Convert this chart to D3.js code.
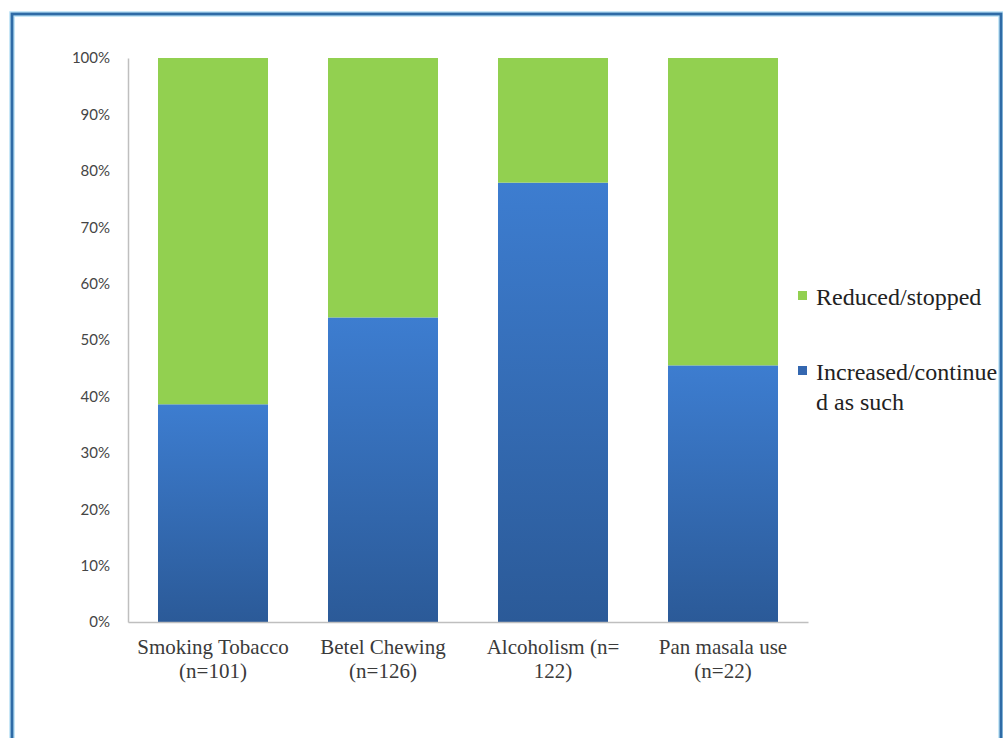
<!DOCTYPE html>
<html>
<head>
<meta charset="utf-8">
<script src="https://cdn.jsdelivr.net/npm/d3@7/dist/d3.min.js"></script>
<style>
  html, body { margin: 0; padding: 0; background: #fff; }
  svg { display: block; }
</style>
</head>
<body>
<svg id="chart" width="1003" height="738"></svg>
<script>
// Share of users by change in habit, per substance
const categories = ["Smoking Tobacco|(n=101)", "Betel Chewing|(n=126)", "Alcoholism (n=|122)", "Pan masala use|(n=22)"];
const increasedContinued = [0.386, 0.540, 0.779, 0.455];
const reducedStopped = [0.614, 0.460, 0.221, 0.545];
const seriesNames = ["Increased/continued as such", "Reduced/stopped"];
const legendLines = [["Reduced/stopped"], ["Increased/continue", "d as such"]];
const yTicks = [0, 0.1, 0.2, 0.3, 0.4, 0.5, 0.6, 0.7, 0.8, 0.9, 1.0];

const svg = d3.select("#chart");
const defs = svg.append("defs");

const grad = defs.append("linearGradient")
  .attr("id", "blueGrad").attr("x1", 0).attr("y1", 0).attr("x2", 0).attr("y2", 1);
grad.append("stop").attr("offset", "0%").attr("stop-color", "#3d7dd0");
grad.append("stop").attr("offset", "100%").attr("stop-color", "#2b5a98");

// outer frame
svg.append("rect").attr("x", 12).attr("y", 14).attr("width", 989).attr("height", 780)
  .attr("fill", "none").attr("stroke", "#b7e0f5").attr("stroke-width", 5.5);
svg.append("rect").attr("x", 12).attr("y", 14).attr("width", 989).attr("height", 780)
  .attr("fill", "none").attr("stroke", "#2f6ba6").attr("stroke-width", 2.8);

const plotLeft = 128, plotRight = 808, plotTop = 58, plotBottom = 622;

const x = d3.scaleBand().domain(categories).range([plotLeft, plotRight]).paddingInner(0.353).paddingOuter(0.1765);
const y = d3.scaleLinear().domain([0, 1]).range([plotBottom, plotTop]);

const rows = categories.map((c, i) => ({ cat: c, inc: increasedContinued[i], red: reducedStopped[i] }));
const stacked = d3.stack().keys(["inc", "red"])(rows);
const fills = ["url(#blueGrad)", "#92d050"];

stacked.forEach((layer, li) => {
  svg.append("g").selectAll("rect").data(layer).join("rect")
    .attr("x", d => x(d.data.cat))
    .attr("width", x.bandwidth())
    .attr("y", d => y(d[1]))
    .attr("height", d => y(d[0]) - y(d[1]))
    .attr("fill", fills[li]);
});

// y axis
const yAxis = svg.append("g").attr("transform", `translate(${plotLeft},0)`)
  .call(d3.axisLeft(y).tickValues(yTicks).tickFormat(d3.format(".0%")).tickSize(0).tickPadding(18));
yAxis.select(".domain").attr("stroke", "#bfbfbf").attr("stroke-width", 1.5);
yAxis.selectAll("text").attr("font-family", "Lato, 'Open Sans', sans-serif").attr("font-size", 15)
  .attr("fill", "#454545");

// x axis
const xAxis = svg.append("g").attr("transform", `translate(0,${plotBottom})`)
  .call(d3.axisBottom(x).tickSize(0).tickFormat(""));
xAxis.select(".domain").attr("stroke", "#bfbfbf").attr("stroke-width", 1.5);

xAxis.selectAll(".tick").each(function(d) {
  const t = d3.select(this).append("text")
    .attr("text-anchor", "middle")
    .attr("font-family", "'Liberation Serif', 'Times New Roman', serif")
    .attr("font-size", 21).attr("fill", "#3a3a3a");
  d.split("|").forEach((line, i) => {
    t.append("tspan").attr("x", 0).attr("y", 32 + i * 24).text(line);
  });
});

// legend
const legend = svg.append("g");
const legendColors = ["#92d050", "#3467b0"];
const legendY = [305, 380];
legendLines.forEach((lines, i) => {
  legend.append("rect").attr("x", 798).attr("y", legendY[i] - 14).attr("width", 9).attr("height", 9)
    .attr("fill", legendColors[i]);
  const t = legend.append("text")
    .attr("font-family", "'Liberation Serif', 'Times New Roman', serif")
    .attr("font-size", 24).attr("fill", "#222");
  lines.forEach((line, j) => {
    t.append("tspan").attr("x", 816).attr("y", legendY[i] + j * 30).text(line);
  });
});
</script>
</body>
</html>
